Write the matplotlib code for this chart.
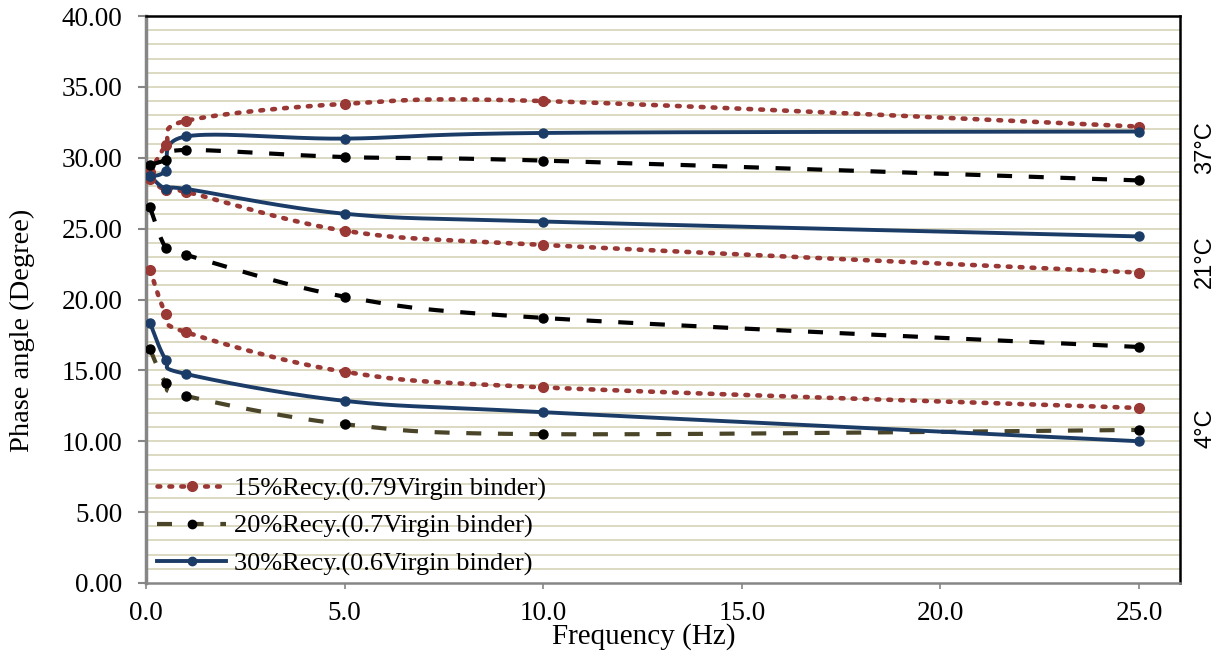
import numpy as np
import matplotlib
matplotlib.use("Agg")
import matplotlib.pyplot as plt
from matplotlib.lines import Line2D

freq = [0.1, 0.5, 1.0, 5.0, 10.0, 25.0]

r15_37 = [29.0, 30.9, 32.6, 33.8, 34.0, 32.2]
r20_37 = [29.5, 29.85, 30.55, 30.05, 29.8, 28.4]
r30_37 = [28.7, 29.1, 31.5, 31.35, 31.75, 31.85]

r15_21 = [28.5, 27.7, 27.6, 24.85, 23.85, 21.9]
r20_21 = [26.5, 23.65, 23.15, 20.2, 18.7, 16.65]
r30_21 = [28.7, 27.8, 27.8, 26.05, 25.5, 24.45]

r15_4 = [22.1, 19.0, 17.7, 14.9, 13.8, 12.35]
r20_4 = [16.5, 14.1, 13.2, 11.2, 10.5, 10.8]
r30_4 = [18.35, 15.75, 14.75, 12.85, 12.05, 10.0]

legend_labels = ["15%Recy.(0.79Virgin binder)",
                 "20%Recy.(0.7Virgin binder)",
                 "30%Recy.(0.6Virgin binder)"]
temp_labels = ["37°C", "21°C", "4°C"]
yticks = [0, 5, 10, 15, 20, 25, 30, 35, 40]
xticks = [0, 5, 10, 15, 20, 25]

RED = "#993835"
BLACK = "#000000"
OLIVE = "#4a4528"
BLUE = "#1c3c68"

plt.rcParams['font.family'] = ['Liberation Serif', 'DejaVu Serif']

fig = plt.figure(figsize=(12.25, 6.6), dpi=100)
ax = fig.add_axes([146/1225, 1-583/660, (1180-146)/1225, (583-16)/660])
xmin, xmax, ymin, ymax = 0, 26.03, 0, 40
ax.set_xlim(xmin, xmax)
ax.set_ylim(ymin, ymax)

sx = 1034 / (xmax - xmin)
sy = 567 / (ymax - ymin)


def smooth(xs, ys, n=40):
    P = np.column_stack([np.array(xs) * sx, np.array(ys) * sy])
    out = [P[0]]
    m = len(P)
    for i in range(m - 1):
        p0 = P[i - 1] if i > 0 else P[i]
        p1 = P[i]
        p2 = P[i + 1]
        p3 = P[i + 2] if i + 2 < m else P[i + 1]
        c1 = p1 + (p2 - p0) / 6.0
        c2 = p2 - (p3 - p1) / 6.0
        t = np.linspace(0, 1, n)[1:, None]
        B = ((1 - t) ** 3) * p1 + 3 * ((1 - t) ** 2) * t * c1 + 3 * (1 - t) * t ** 2 * c2 + t ** 3 * p2
        out.extend(B)
    out = np.array(out)
    return out[:, 0] / sx, out[:, 1] / sy


# grid
for v in range(1, 40):
    ax.axhline(v, color="#ddd9c3", lw=1.4, zorder=0)

dot_style = dict(linestyle=(0, (0.6, 2.0)), dash_capstyle='round', lw=3.3)
dash_style = dict(linestyle=(0, (3.6, 4.0)), lw=3.0)
solid_style = dict(linestyle='-', lw=2.8)

series = [
    (r15_37, RED, RED, dot_style, 7),
    (r15_21, RED, RED, dot_style, 7),
    (r15_4, RED, RED, dot_style, 7),
    (r20_37, BLACK, BLACK, dash_style, 6.5),
    (r20_21, BLACK, BLACK, dash_style, 6.5),
    (r20_4, OLIVE, BLACK, dash_style, 6.5),
    (r30_37, BLUE, BLUE, solid_style, 6.5),
    (r30_21, BLUE, BLUE, solid_style, 6.5),
    (r30_4, BLUE, BLUE, solid_style, 6.5),
]
for ys, lc, mc, st, ms in series:
    xs_s, ys_s = smooth(freq, ys)
    ax.plot(xs_s, ys_s, color=lc, zorder=3, **st)
    ax.plot(freq, ys, linestyle='none', marker='o', ms=ms, color=mc, zorder=4)

handles = [
    Line2D([], [], color=RED, marker='o', ms=7, **dot_style),
    Line2D([], [], color=OLIVE, marker='o', ms=6, mfc=BLACK, mec=BLACK, **dash_style),
    Line2D([], [], color=BLUE, marker='o', ms=6, **solid_style),
]
ax.legend(handles, legend_labels, loc='lower left', bbox_to_anchor=(-0.003, -0.013),
          frameon=False, fontsize=19, handlelength=2.6, handletextpad=0.3,
          labelspacing=0.52, borderaxespad=0.25, borderpad=0.3)

ax.set_yticks(yticks)
ax.set_yticklabels([f"{v:.2f}" for v in yticks], fontsize=19.5)
ax.set_xticks(xticks)
ax.set_xticklabels([f"{v:.1f}" for v in xticks], fontsize=19.5)
ax.tick_params(axis='y', direction='out', length=6, width=1.5, color="#868686", pad=11)
ax.tick_params(axis='x', direction='out', length=4, width=1.2, color="#868686", pad=9)

ax.spines['left'].set_color("#868686")
ax.spines['left'].set_linewidth(2.5)
ax.spines['bottom'].set_color("#868686")
ax.spines['bottom'].set_linewidth(1.8)
ax.spines['top'].set_color("black")
ax.spines['top'].set_linewidth(1.8)
ax.spines['right'].set_color("black")
ax.spines['right'].set_linewidth(1.8)

fig.text(644/1225, 1-637/660, "Frequency (Hz)", ha='center', va='center', fontsize=21)
fig.text(22/1225, 1-330/660, "Phase angle (Degree)", ha='center', va='center',
         rotation=90, fontsize=20.5)

for lbl, yc in zip(temp_labels, [148, 262, 428]):
    fig.text(1205/1225, 1-yc/660, lbl, ha='center', va='center', rotation=90,
             fontsize=17, family=['Liberation Sans', 'DejaVu Sans'])

fig.savefig("out.png", dpi=100)
